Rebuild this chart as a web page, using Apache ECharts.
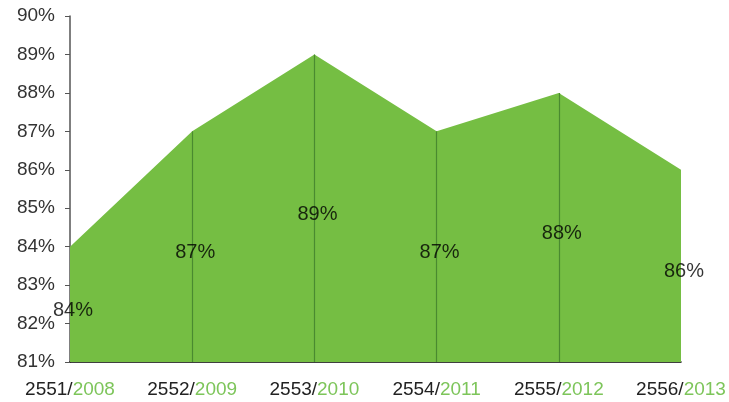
<!DOCTYPE html>
<html><head><meta charset="utf-8">
<script src="https://cdn.jsdelivr.net/npm/echarts@6/dist/echarts.min.js"></script>
<style>html,body{margin:0;padding:0;background:#fff}#c{width:729px;height:402px}</style>
</head><body><div id="c"></div>
<script>
const buddhistYears = ['2551','2552','2553','2554','2555','2556'];
const gregorianYears = ['2008','2009','2010','2011','2012','2013'];
const values = [84, 87, 89, 87, 88, 86];
const yMin = 81, yMax = 90;

const cats = buddhistYears.map((b, i) => b + '/' + gregorianYears[i]);
const chart = echarts.init(document.getElementById('c'));
const font = 'Liberation Sans, Arial, sans-serif';
chart.setOption({
  animation: false,
  grid: {left: 70, right: 48, top: 16, bottom: 40},
  xAxis: {
    type: 'category', data: cats, boundaryGap: false,
    axisLine: {lineStyle: {color: '#000', width: 1.5}},
    axisTick: {show: false},
    axisLabel: {
      interval: 0, margin: 18, fontFamily: font, fontSize: 19,
      formatter: v => { const p = v.split('/'); return '{a|' + p[0] + '/}{b|' + p[1] + '}'; },
      rich: {a: {color: '#222', fontSize: 19, fontFamily: font}, b: {color: '#7dc55a', fontSize: 19, fontFamily: font}}
    }
  },
  yAxis: {
    type: 'value', min: yMin, max: yMax, interval: 1,
    axisLine: {show: true, lineStyle: {color: '#555', width: 1.5}},
    axisTick: {show: true, length: 5, lineStyle: {color: '#555'}},
    splitLine: {show: false},
    axisLabel: {margin: 15, color: '#333', fontSize: 19, fontFamily: font, formatter: '{value}%'}
  },
  series: [{
    type: 'line', data: values, symbol: 'none', z: 2,
    lineStyle: {width: 0, color: '#75be43'},
    areaStyle: {color: '#75be43', opacity: 1},
    markLine: {
      silent: true, symbol: 'none', label: {show: false},
      lineStyle: {color: '#4a8a30', width: 1.2, type: 'solid'},
      data: values.map((v, i) => [{coord: [i, v]}, {coord: [i, yMin]}]).slice(1, values.length - 1)
    }
  }, {
    type: 'scatter', symbolSize: 1, z: 10,
    itemStyle: {color: 'rgba(0,0,0,0)'},
    data: values.map(v => (v + yMin) / 2),
    label: {show: true, position: 'inside', offset: [3, 6], color: '#000', fontSize: 20, fontFamily: font,
      formatter: p => values[p.dataIndex] + '%'}
  }]
});
</script></body></html>
